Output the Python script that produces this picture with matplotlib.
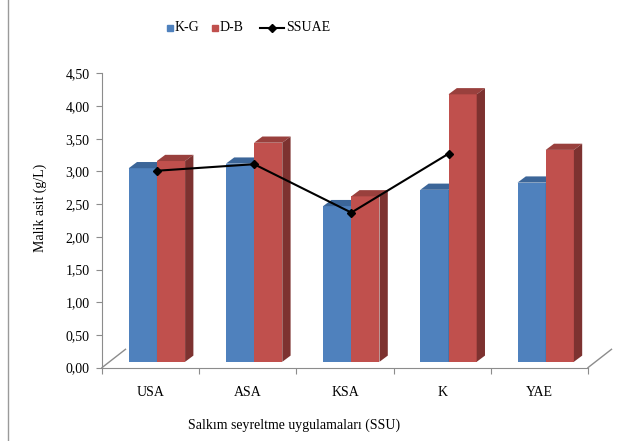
import numpy as np
import matplotlib
matplotlib.use("Agg")
import matplotlib.pyplot as plt
from matplotlib.patches import Polygon
from matplotlib.lines import Line2D

plt.rcParams['font.family'] = ['Liberation Serif', 'DejaVu Serif']

# data
categories = ["USA", "ASA", "KSA", "K", "YAE"]
kg = [2.96, 3.03, 2.38, 2.63, 2.74]
db = [3.07, 3.35, 2.53, 4.09, 3.24]
ssuae = [3.01, 3.11, 2.37, 3.27]
yticks = [0, 0.5, 1, 1.5, 2, 2.5, 3, 3.5, 4, 4.5]
ytick_labels = ["0,00", "0,50", "1,00", "1,50", "2,00", "2,50", "3,00", "3,50", "4,00", "4,50"]

blue, blue_top = "#4F81BD", "#3C6699"
red, red_top, red_side = "#C0504D", "#99403D", "#7D3230"
grey = "#8C8C8C"

W, H = 624, 441
fig = plt.figure(figsize=(W / 100, H / 100), dpi=100)
ax = fig.add_axes([102 / W, 1 - 367.6 / H, 486 / W, 294.3 / H])
ax.set_xlim(0, 5)
ax.set_ylim(0, 4.5)

# fake 3d geometry (px -> data units)
px_x, px_y = 1 / 97.2, 1 / 65.4
off_x, base = 6.3 * px_x, 5.8 * px_y      # bars sit a bit back on the floor
dep_x, dep_y = 8.3 * px_x, 6.2 * px_y     # bar depth
w = 0.29
xc = np.arange(len(categories)) + 0.5


def box(x0, h, front, top, side, z):
    ax.bar(x0, h, width=w, bottom=base, align="edge", color=front, zorder=z, linewidth=0)
    y1 = base + h
    ax.add_patch(Polygon([(x0, y1), (x0 + w, y1), (x0 + w + dep_x, y1 + dep_y), (x0 + dep_x, y1 + dep_y)],
                         closed=True, color=top, lw=0, zorder=z, clip_on=False))
    ax.add_patch(Polygon([(x0 + w, base), (x0 + w + dep_x, base + dep_y), (x0 + w + dep_x, y1 + dep_y), (x0 + w, y1)],
                         closed=True, color=side, lw=0, zorder=z, clip_on=False))


for i in range(len(categories)):
    x0 = xc[i] + off_x - w
    box(x0, kg[i], blue, blue_top, blue_top, 2 + i * 0.1)
    box(x0 + w, db[i], red, red_top, red_side, 2.05 + i * 0.1)

ax.plot(xc[:len(ssuae)] + off_x, ssuae, color="black", lw=1.5, marker="D", ms=4, zorder=10, clip_on=False)

# floor slants
fx, fy = 23.5 * px_x, 18.3 * px_y
ax.plot([0, fx], [0, fy], color=grey, lw=1, clip_on=False)
ax.plot([5, 5 + fx], [0, fy], color=grey, lw=1, clip_on=False)

for s in ["top", "right"]:
    ax.spines[s].set_visible(False)
for s in ["left", "bottom"]:
    ax.spines[s].set_color(grey)
ax.set_yticks(yticks)
ax.set_yticklabels(ytick_labels, fontsize=10)
ax.set_xticks(np.arange(6))
ax.set_xticklabels([""] * 6)
ax.set_xticks(xc, minor=True)
ax.set_xticklabels(categories, minor=True, fontsize=10)
ax.tick_params(axis="y", direction="out", length=4, color=grey, pad=5)
ax.tick_params(axis="x", which="major", direction="out", length=4, color=grey)
ax.tick_params(axis="x", which="minor", length=0, pad=13)
ax.patch.set_visible(False)

fig.text(40 / W, 1 - 208 / H, "Malik asit (g/L)", rotation=90, ha="center", va="center", fontsize=10)
fig.text(294 / W, 1 - 425 / H, "Salkım seyreltme uygulamaları (SSU)", ha="center", va="center", fontsize=10)

# legend, drawn by hand
ly = 1 - 27.5 / H
fig.add_artist(Line2D([170 / W], [ly], marker="s", ms=4.5, color=blue, lw=0))
fig.text(175 / W, ly, "K-G", va="center", fontsize=10)
fig.add_artist(Line2D([215 / W], [ly], marker="s", ms=4.5, color=red, lw=0))
fig.text(220 / W, ly, "D-B", va="center", fontsize=10)
fig.add_artist(Line2D([260 / W, 284 / W], [ly, ly], color="black", lw=1.5))
fig.add_artist(Line2D([272 / W], [ly], marker="D", ms=4, color="black", lw=0))
fig.text(286 / W, ly, "SSUAE", va="center", fontsize=10)

# frame line on the left edge
fig.add_artist(Line2D([7.5 / W, 7.5 / W], [0, 1], color="#9A9A9A", lw=1))

fig.savefig("out.png", dpi=100)
